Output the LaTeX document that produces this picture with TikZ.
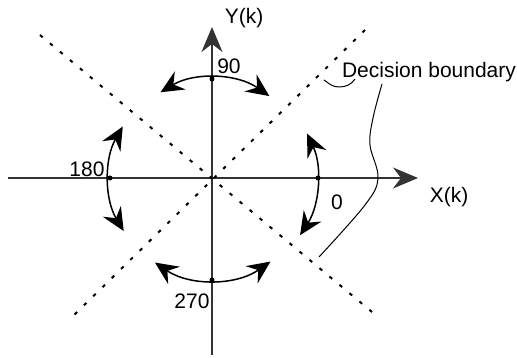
\documentclass[tikz,border=0pt]{standalone}
\usepackage{fontspec}
\setmainfont{Liberation Sans}
\usetikzlibrary{arrows.meta}
\begin{document}
\begin{tikzpicture}[x=1pt,y=1pt,
  axisline/.style={line width=1.2pt, draw=black!80},
  bigtip/.style={-{Stealth[length=25pt,width=21pt,inset=8pt]}},
  arcline/.style={line width=1.5pt, {Stealth[length=23pt,width=21pt,inset=8pt]}-{Stealth[length=23pt,width=21pt,inset=8pt]}},
  dotline/.style={line width=2pt, dash pattern=on 3.5pt off 9.5pt},
  leader/.style={line width=1pt},
  lbl/.style={inner sep=0pt, font=\fontsize{21}{25}\selectfont},
  marker/.style={fill=black, circle, inner sep=0pt, minimum size=5pt}]
\useasboundingbox (-212,-180) rectangle (305,178);
\coordinate (O) at (0,0);
% axes
\coordinate (xl) at (-204,0);
\coordinate (xr) at (206,0);
\coordinate (yb) at (0,-177);
\coordinate (yt) at (0,151);
\draw[axisline] (xl) -- (O);
\draw[axisline,bigtip] (O) -- (xr);
\draw[axisline] (yb) -- (O);
\draw[axisline,bigtip] (O) -- (yt);
% dotted decision lines
\coordinate (a1) at (-172,143);
\coordinate (a2) at (160,-134);
\coordinate (b1) at (153,148);
\coordinate (b2) at (-143,-142);
\draw[dotline] (a1) -- (a2);
\draw[dotline] (b1) -- (b2);
% arcs
\draw[arcline] (O) ++(55:100) arc[start angle=55,end angle=121,radius=100];
\draw[arcline] (O) ++(-33:105) arc[start angle=-33,end angle=25,radius=105];
\draw[arcline] (O) ++(150:103) arc[start angle=150,end angle=211,radius=103];
\draw[arcline] (O) ++(236:102) arc[start angle=236,end angle=305,radius=102];
% markers
\node[marker] (m90) at (0,99) {};
\node[marker] (m0) at (106,0) {};
\node[marker] (m180) at (-102,0) {};
\node[marker] (m270) at (0,-102) {};
% labels
\node[lbl] (ylab) at (32,160) {Y(k)};
\node[lbl] (xlab) at (237,-19) {X(k)};
\node[lbl] (dec) at (217,106) {Decision boundary};
\node[lbl] (l90) at (17,112) {90};
\node[lbl] (l180) at (-125,9) {180};
\node[lbl] (l0) at (125,-24) {0};
\node[lbl] (l270) at (-20,-123) {270};
% leaders
\draw[leader] (112,98) to[out=-35,in=180] (127,91) to[out=0,in=-125] (143,99);
\draw[leader] plot[smooth,tension=0.6] coordinates {(170,94) (161,60) (158,33) (166,0) (153,-27) (107,-79)};
\end{tikzpicture}
\end{document}
